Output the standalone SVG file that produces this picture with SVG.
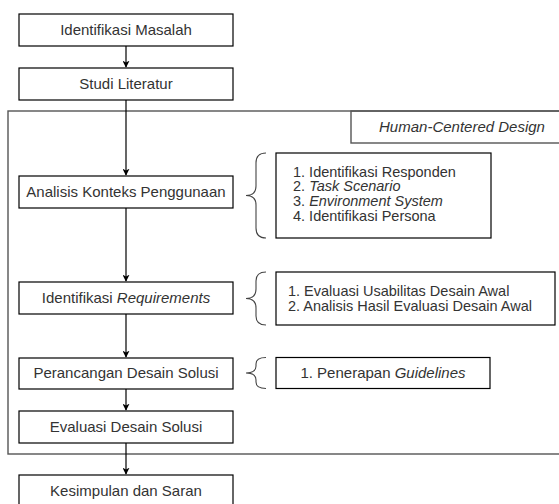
<svg xmlns="http://www.w3.org/2000/svg" width="559" height="504" viewBox="0 0 559 504">
<defs>
<style>
.box{fill:#fff;stroke:#000;stroke-width:1.2}
.frame{fill:none;stroke:#555;stroke-width:1.4}
.t{font-family:"Liberation Sans",Arial,sans-serif;font-size:15px;fill:#333}
.s{font-size:14.5px}
.c{text-anchor:middle}
.i{font-style:italic}
.edge{fill:none;stroke:#000;stroke-width:1.2}
.brace{fill:none;stroke:#444;stroke-width:1.1}
</style>
<marker id="arr" viewBox="0 0 10 10" refX="9" refY="5" markerWidth="7" markerHeight="7" markerUnits="userSpaceOnUse" orient="auto">
<path d="M0,0 L10,5 L0,10 L2.5,5 Z" fill="#000"/>
</marker>
</defs>
<rect width="559" height="504" fill="#fff"/>
<g id="hcd-frame">
<rect class="frame" x="8" y="111" width="555" height="343"/>
<rect class="frame" x="351" y="111" width="220" height="32"/>
<text class="t c i" x="462" y="132">Human-Centered Design</text>
</g>
<g id="connectors">
<line class="edge" x1="126" y1="46" x2="126" y2="67" marker-end="url(#arr)"/>
<line class="edge" x1="126" y1="100" x2="126" y2="175" marker-end="url(#arr)"/>
<line class="edge" x1="126" y1="208" x2="126" y2="281" marker-end="url(#arr)"/>
<line class="edge" x1="126" y1="314" x2="126" y2="357" marker-end="url(#arr)"/>
<line class="edge" x1="126" y1="389" x2="126" y2="410" marker-end="url(#arr)"/>
<line class="edge" x1="126" y1="443" x2="126" y2="474" marker-end="url(#arr)"/>
</g>
<g id="n1"><rect class="box" x="19" y="14" width="214" height="32"/><text class="t c" x="126" y="35">Identifikasi Masalah</text></g>
<g id="n2"><rect class="box" x="19" y="68" width="214" height="32"/><text class="t c" x="126" y="89">Studi Literatur</text></g>
<g id="n3"><rect class="box" x="19" y="176" width="214" height="32"/><text class="t c" x="126" y="197">Analisis Konteks Penggunaan</text></g>
<g id="n4"><rect class="box" x="19" y="282" width="214" height="32"/><text class="t c" x="126" y="303">Identifikasi <tspan class="i">Requirements</tspan></text></g>
<g id="n5"><rect class="box" x="19" y="358" width="214" height="31"/><text class="t c" x="126" y="378">Perancangan Desain Solusi</text></g>
<g id="n6"><rect class="box" x="19" y="411" width="214" height="32"/><text class="t c" x="126" y="432">Evaluasi Desain Solusi</text></g>
<g id="n7"><rect class="box" x="19" y="475" width="214" height="32"/><text class="t c" x="126" y="496">Kesimpulan dan Saran</text></g>
<g id="detail1">
<path class="brace" d="M266,153 Q256,153 256,163 L256,186 Q256,195.5 246,195.5 Q256,195.5 256,205 L256,228 Q256,238 266,238"/>
<rect class="box" x="276" y="153" width="215" height="85"/>
<text class="t s" x="293" y="176.8">1. Identifikasi Responden</text>
<text class="t s" x="293" y="191.4">2. <tspan class="i">Task Scenario</tspan></text>
<text class="t s" x="293" y="206">3. <tspan class="i">Environment System</tspan></text>
<text class="t s" x="293" y="220.6">4. Identifikasi Persona</text>
</g>
<g id="detail2">
<path class="brace" d="M266,272 Q256,272 256,281 L256,289 Q256,298.5 246,298.5 Q256,298.5 256,308 L256,316 Q256,325 266,325"/>
<rect class="box" x="276" y="272" width="279" height="53"/>
<text class="t s" x="288" y="296.2">1. Evaluasi Usabilitas Desain Awal</text>
<text class="t s" x="288" y="310.8">2. Analisis Hasil Evaluasi Desain Awal</text>
</g>
<g id="detail3">
<path class="brace" d="M266,357.5 Q256,357.5 256,364 L256,366 Q256,373 246,373 Q256,373 256,380 L256,382 Q256,388.5 266,388.5"/>
<rect class="box" x="276" y="357.5" width="214" height="31"/>
<text class="t c" x="383" y="378">1. Penerapan <tspan class="i">Guidelines</tspan></text>
</g>
</svg>
